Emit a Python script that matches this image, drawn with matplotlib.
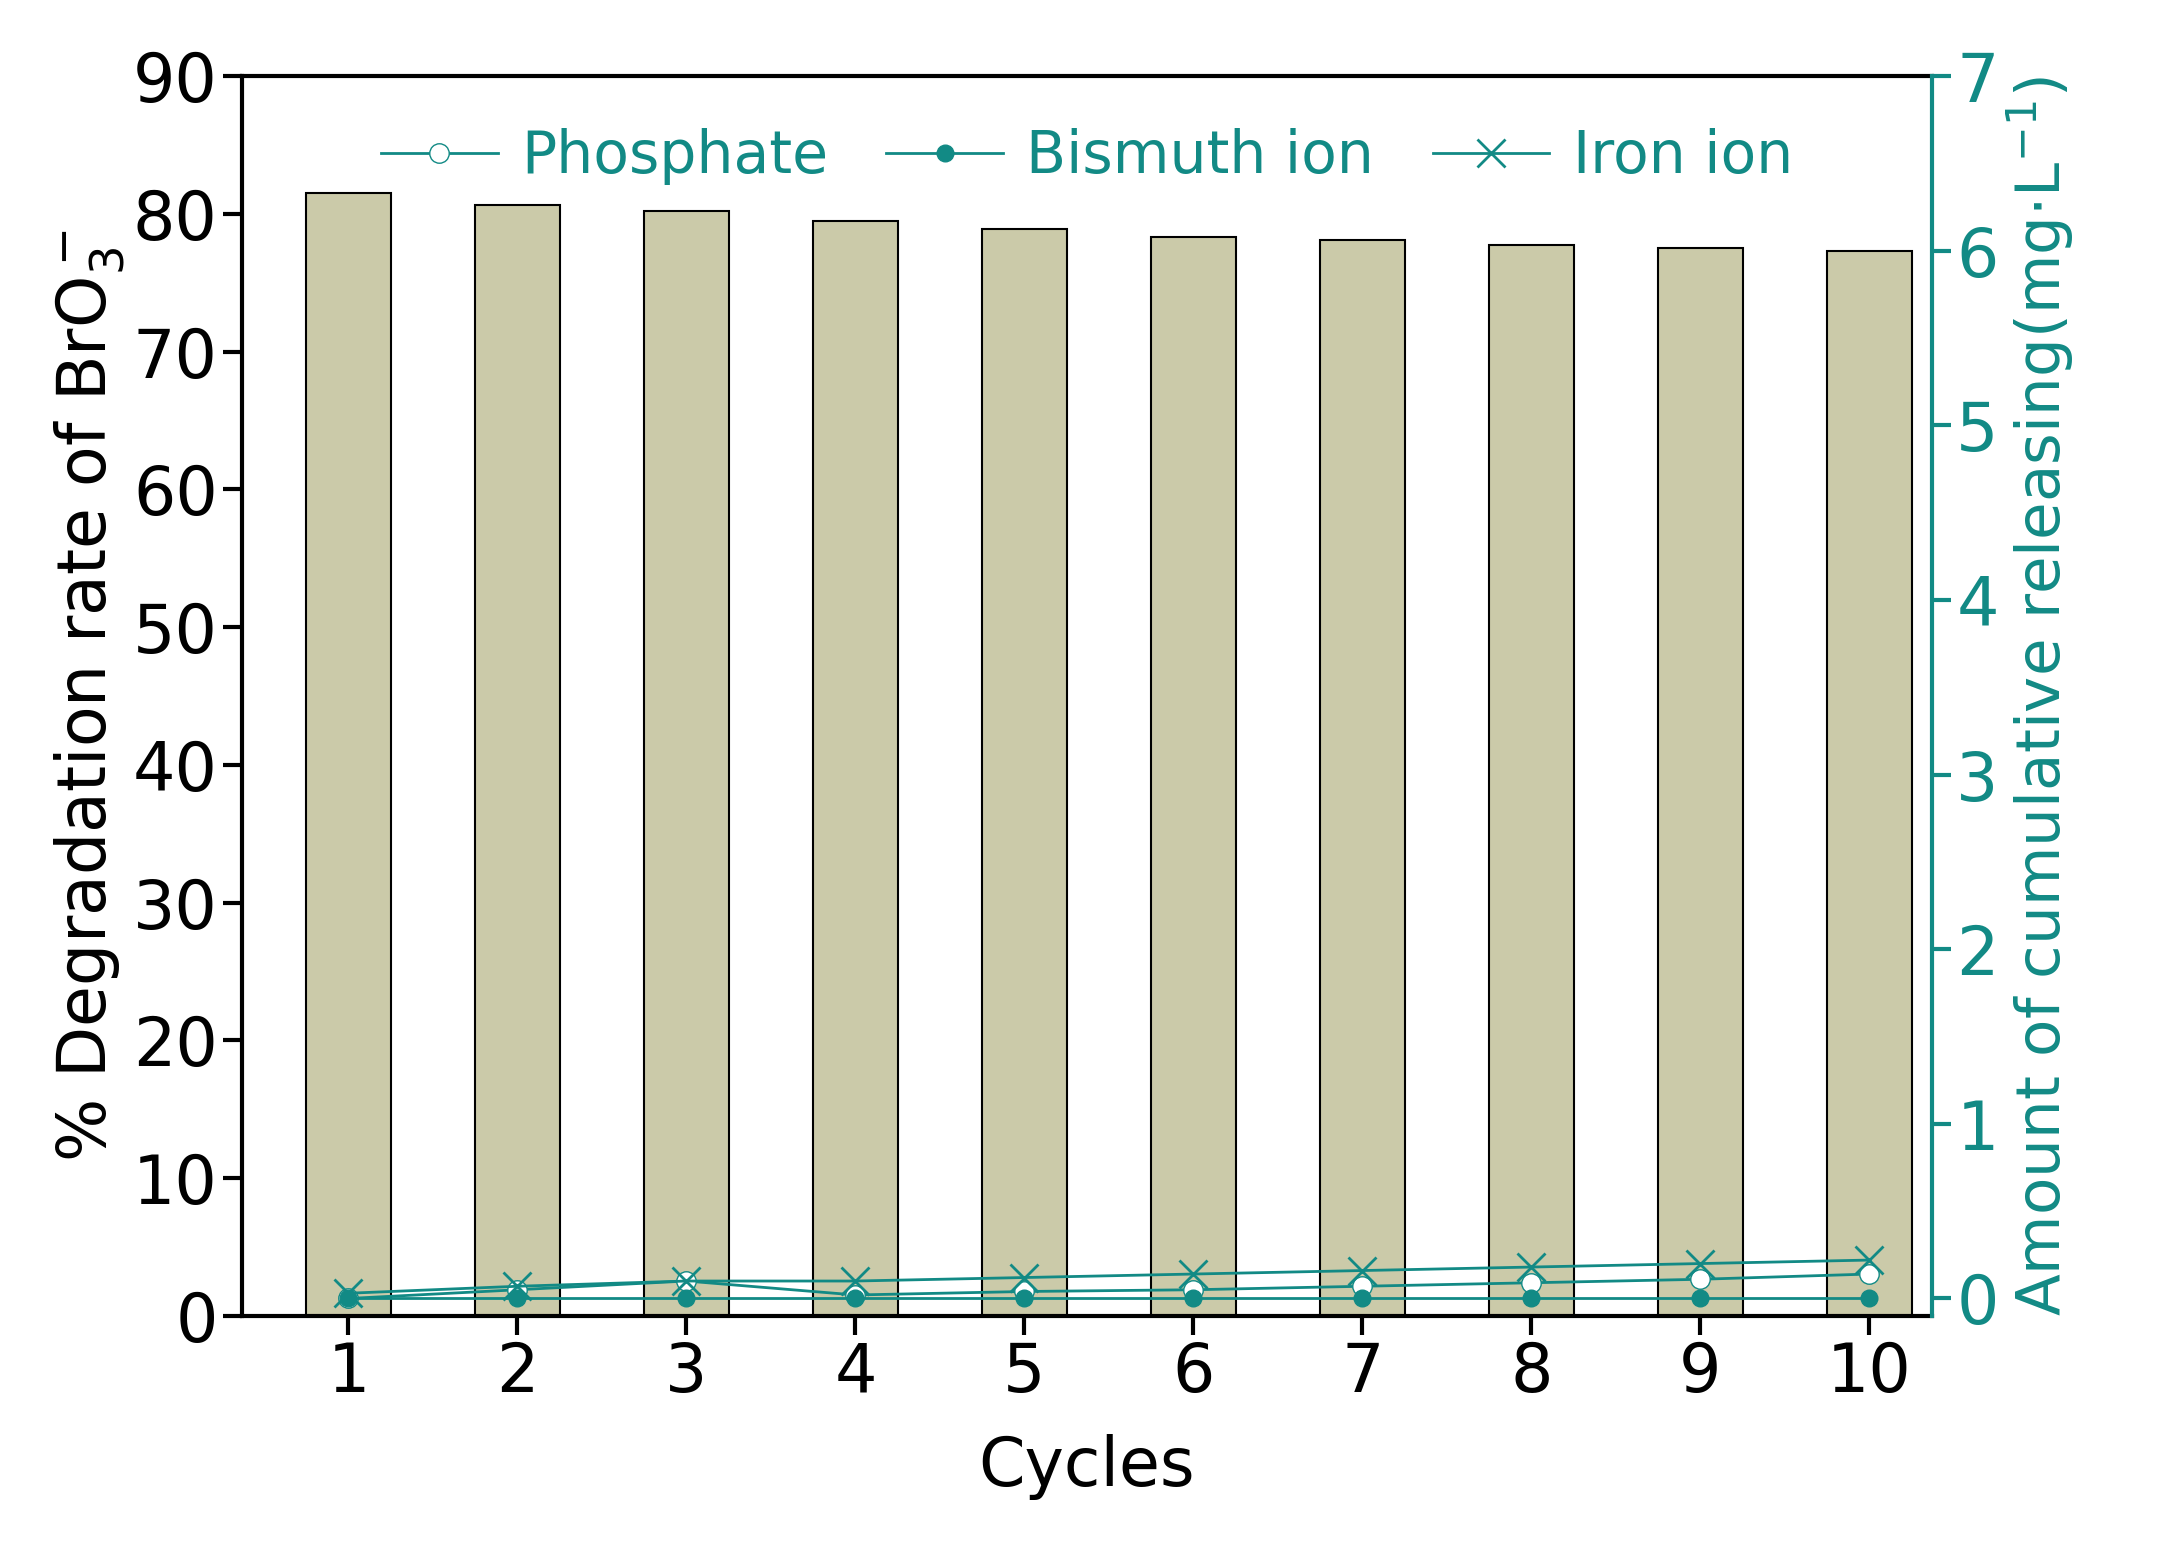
import matplotlib
matplotlib.use("Agg")
import matplotlib.pyplot as plt

cycles = [1, 2, 3, 4, 5, 6, 7, 8, 9, 10]
degradation = [81.5, 80.6, 80.2, 79.5, 78.9, 78.3, 78.1, 77.7, 77.5, 77.3]
phosphate = [0.0, 0.05, 0.10, 0.02, 0.04, 0.05, 0.07, 0.09, 0.11, 0.14]
bismuth = [0.0, 0.0, 0.0, 0.0, 0.0, 0.0, 0.0, 0.0, 0.0, 0.0]
iron = [0.03, 0.07, 0.10, 0.10, 0.12, 0.14, 0.16, 0.18, 0.20, 0.22]

teal = "#128a85"
plt.rcParams["font.family"] = "DejaVu Sans"
fig = plt.figure(figsize=(21.61, 15.5), dpi=100)
ax = fig.add_axes([0.112, 0.151, 0.782, 0.80])
ax.bar(cycles, degradation, width=0.5, color="#cbcaa9", edgecolor="black", linewidth=1.5, zorder=1)
ax.set_xlim(0.37, 10.37)
ax.set_ylim(0, 90)
ax.set_yticks(range(0, 91, 10))
ax.set_xticks(cycles)
ax.tick_params(labelsize=48, width=3, length=14)
for s in ["left", "bottom", "top"]:
    ax.spines[s].set_linewidth(3)
ax.spines["right"].set_visible(False)
ax.set_xlabel("Cycles", fontsize=48, labelpad=20)
ax.set_ylabel("% Degradation rate of BrO$_3^-$", fontsize=48)

ax2 = ax.twinx()
ax2.set_ylim(-0.1, 7.0)
ax2.set_yticks(range(0, 8))
ax2.spines["right"].set_color(teal)
ax2.spines["right"].set_linewidth(3)
for s in ["left", "bottom", "top"]:
    ax2.spines[s].set_visible(False)
ax2.tick_params(axis="y", colors=teal, labelsize=48, width=3, length=14)
ax2.set_ylabel("Amount of cumulative releasing(mg$\\cdot$L$^{-1}$)", fontsize=44, color=teal, labelpad=4)
ax2.plot(cycles, phosphate, "-o", color=teal, mfc="white", ms=14, lw=2, label="Phosphate")
ax2.plot(cycles, bismuth, "-o", color=teal, ms=12, lw=2, label="Bismuth ion")
ax2.plot(cycles, iron, "-x", color=teal, ms=20, mew=2, lw=2, label="Iron ion")
leg = ax2.legend(loc="upper center", ncol=3, frameon=False, fontsize=42,
                 handlelength=2.0, handletextpad=0.4, columnspacing=1.0,
                 bbox_to_anchor=(0.5, 1.0))
for t in leg.get_texts():
    t.set_color(teal)
fig.savefig("out.png", dpi=100)
